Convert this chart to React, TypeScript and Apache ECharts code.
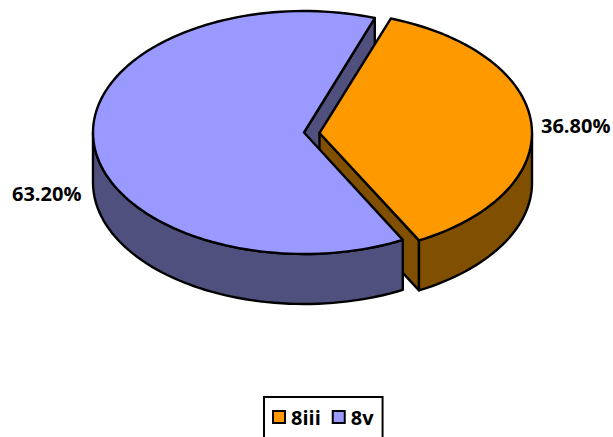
import React, { useEffect, useRef } from "react";
import * as echarts from "echarts";

const categories = ["8iii", "8v"];
const shares = [36.8, 63.2];
const topColors = ["#FF9900", "#9999FF"];
const sideColors = ["#805000", "#50507F"];

const FONT = "'Open Sans'";
const START_DEG = 19.6;
const GEOM = [
  { cx: 319.5, cy: 133, rx: 212.5, ry: 121.5 },
  { cx: 304, cy: 132.5, rx: 211, ry: 121.5 },
];
const DEPTH = 50;
const LABEL_POS = [
  { x: 541, y: 125 },
  { x: 12, y: 193 },
];

function arcPoints(g: any, a0: number, a1: number, dy = 0) {
  const pts: number[][] = [];
  const n = Math.max(2, Math.ceil(Math.abs(a1 - a0) / 2));
  for (let i = 0; i <= n; i++) {
    const a = ((a0 + ((a1 - a0) * i) / n) * Math.PI) / 180;
    pts.push([g.cx + g.rx * Math.sin(a), g.cy - g.ry * Math.cos(a) + dy]);
  }
  return pts;
}

function poly(points: number[][], fill: string, z2: number) {
  return {
    type: "polygon",
    z2,
    shape: { points },
    style: { fill, stroke: "#000", lineWidth: 2.4, lineJoin: "round" },
  };
}

function renderSlice(params: any, api: any) {
  const idx = params.seriesIndex;
  const value = api.value(0);
  const total = shares.reduce((s, v) => s + v, 0);
  const before = shares.slice(0, idx).reduce((s, v) => s + v, 0);
  const a0 = START_DEG + (before / total) * 360;
  const a1 = a0 + (value / total) * 360;
  const g = GEOM[idx];
  const c = [g.cx, g.cy];
  const p1 = [g.cx + g.rx * Math.sin((a1 * Math.PI) / 180), g.cy - g.ry * Math.cos((a1 * Math.PI) / 180)];
  const top = topColors[idx];
  const side = sideColors[idx];
  const children: any[] = [];
  const down = (p: number[]) => [p[0], p[1] + DEPTH];
  // z order: blue back cut, orange solid, blue solid
  const base = idx === 0 ? 10 : 20;
  if (idx === 1) {
    children.push(poly([c, p1, down(p1), down(c)], side, 1));
  } else {
    children.push(poly([c, p1, down(p1), down(c)], side, base));
  }
  // rim: visible part between 90 and 270 degrees
  const r0 = Math.max(a0, 90);
  const r1 = Math.min(a1, 270);
  if (r1 > r0) {
    const front = arcPoints(g, r0, r1);
    const back = arcPoints(g, r1, r0, DEPTH);
    children.push(poly(front.concat(back), side, base + 1));
  }
  children.push(poly([c].concat(arcPoints(g, a0, a1)), top, base + 2));
  children.push({
    type: "text",
    z2: 30,
    style: {
      x: LABEL_POS[idx].x,
      y: LABEL_POS[idx].y,
      text: value.toFixed(2) + "%",
      fill: "#000",
      font: `bold 20px ${FONT}`,
      textVerticalAlign: "middle",
    },
  });
  return { type: "group", children };
}

export default function App() {
  const ref = useRef<HTMLDivElement>(null);
  useEffect(() => {
    document.body.style.margin = "0";
    document.body.style.overflow = "hidden";
    const chart = echarts.init(ref.current!, undefined, { renderer: "svg" });
    chart.setOption({
      animation: false,
      backgroundColor: "#fff",
      legend: {
        left: 264,
        top: 397,
        orient: "horizontal",
        icon: "rect",
        itemWidth: 12,
        itemHeight: 12,
        itemGap: 11,
        padding: [10, 9, 32, 8],
        borderColor: "#000",
        borderWidth: 2,
        borderRadius: 0,
        selectedMode: false,
        textStyle: { fontFamily: "'Open Sans'", fontWeight: "bold", fontSize: 20, color: "#000", padding: [0, 0, 0, 1] },
        data: categories.map((name, i) => ({
          name,
          itemStyle: { color: topColors[i], borderColor: "#000", borderWidth: 2 },
        })),
      },
      series: categories.map((name, i) => ({
        type: "custom",
        name,
        coordinateSystem: "none",
        silent: true,
        clip: false,
        itemStyle: { color: topColors[i] },
        renderItem: renderSlice,
        data: [[shares[i]]],
      })),
    });
    return () => chart.dispose();
  }, []);
  return <div ref={ref} style={{ position: "absolute", left: 0, top: 0, width: 613, height: 437 }} />;
}
